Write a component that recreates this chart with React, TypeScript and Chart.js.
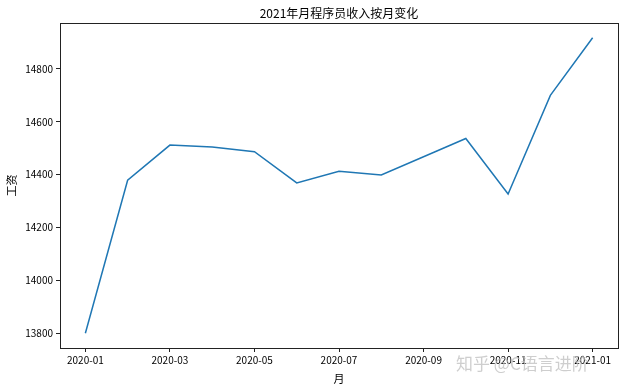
import React, { useEffect, useRef } from "react";
import { Chart, registerables } from "chart.js";

Chart.register(...registerables);

const monthLabels = [
  "2020-01", "2020-02", "2020-03", "2020-04", "2020-05", "2020-06", "2020-07",
  "2020-08", "2020-09", "2020-10", "2020-11", "2020-12", "2021-01",
];
const salaries = [
  13800, 14379, 14512, 14505, 14487, 14369, 14413, 14399, 14468, 14537, 14327, 14700, 14918,
];
const xTickIndices = [0, 2, 4, 6, 8, 10, 12];
const yTickValues = [13800, 14000, 14200, 14400, 14600, 14800];

const chartTitle = "2021年月程序员收入按月变化";
const xTitle = "月";
const yTitle = "工资";
const watermark = "知乎 @C语言进阶";

const FONT = "'Noto Sans CJK SC', 'DejaVu Sans', sans-serif";

export default function App() {
  const ref = useRef<HTMLCanvasElement | null>(null);

  useEffect(() => {
    if (!ref.current) return;
    const decor = {
      id: "decor",
      afterDraw(chart: any) {
        const { ctx, chartArea } = chart;
        ctx.save();
        ctx.strokeStyle = "#222";
        ctx.lineWidth = 1;
        ctx.strokeRect(
          Math.round(chartArea.left) + 0.5,
          Math.round(chartArea.top) + 0.5,
          Math.round(chartArea.right - chartArea.left),
          Math.round(chartArea.bottom - chartArea.top)
        );
        ctx.fillStyle = "#000";
        ctx.textAlign = "center";
        ctx.textBaseline = "middle";
        ctx.font = `12px ${FONT}`;
        ctx.fillText(chartTitle, (chartArea.left + chartArea.right) / 2, 13);
        ctx.font = `11px ${FONT}`;
        ctx.fillText(xTitle, (chartArea.left + chartArea.right) / 2, 379);
        ctx.save();
        ctx.translate(12, (chartArea.top + chartArea.bottom) / 2);
        ctx.rotate(-Math.PI / 2);
        ctx.fillText(yTitle, 0, 0);
        ctx.restore();
        ctx.font = `17px ${FONT}`;
        ctx.fillStyle = "rgba(190,190,190,0.75)";
        ctx.textAlign = "left";
        ctx.fillText(watermark, 456, 364);
        ctx.restore();
      },
    };

    const chart = new Chart(ref.current, {
      type: "line",
      data: {
        datasets: [
          {
            data: salaries.map((v, i) => ({ x: i, y: v })),
            borderColor: "#1f77b4",
            borderWidth: 1.5,
            pointRadius: 0,
            tension: 0,
            fill: false,
          },
        ],
      },
      options: {
        animation: false,
        responsive: false,
        devicePixelRatio: 1,
        layout: { padding: { left: 0, top: 23, right: 6, bottom: 0 } },
        plugins: {
          legend: { display: false },
          tooltip: { enabled: false },
          title: { display: false },
        },
        scales: {
          x: {
            type: "linear",
            min: -0.6,
            max: 12.6,
            afterBuildTicks: (scale: any) => {
              scale.ticks = xTickIndices.map((v) => ({ value: v }));
            },
            afterFit: (scale: any) => {
              scale.height = 43;
            },
            grid: {
              display: true,
              drawOnChartArea: false,
              drawTicks: true,
              tickLength: 4,
              tickColor: "#222",
            },
            border: { display: true, color: "#222" },
            ticks: {
              color: "#000",
              font: { size: 10, family: FONT },
              padding: 2,
              maxRotation: 0,
              autoSkip: false,
              callback: (v: any) => monthLabels[Number(v)] ?? "",
            },
          },
          y: {
            type: "linear",
            min: 13744,
            max: 14974,
            afterBuildTicks: (scale: any) => {
              scale.ticks = yTickValues.map((v) => ({ value: v }));
            },
            afterFit: (scale: any) => {
              scale.width = 60;
            },
            grid: {
              display: true,
              drawOnChartArea: false,
              drawTicks: true,
              tickLength: 4,
              tickColor: "#222",
            },
            border: { display: true, color: "#222" },
            ticks: {
              color: "#000",
              font: { size: 10, family: FONT },
              padding: 3,
              autoSkip: false,
              callback: (v: any) => String(v),
            },
          },
        },
      },
      plugins: [decor],
    } as any);

    return () => chart.destroy();
  }, []);

  return (
    <div style={{ position: "absolute", left: 0, top: 0, width: 624, height: 391, background: "#fff" }}>
      <canvas ref={ref} width={624} height={391} />
    </div>
  );
}
